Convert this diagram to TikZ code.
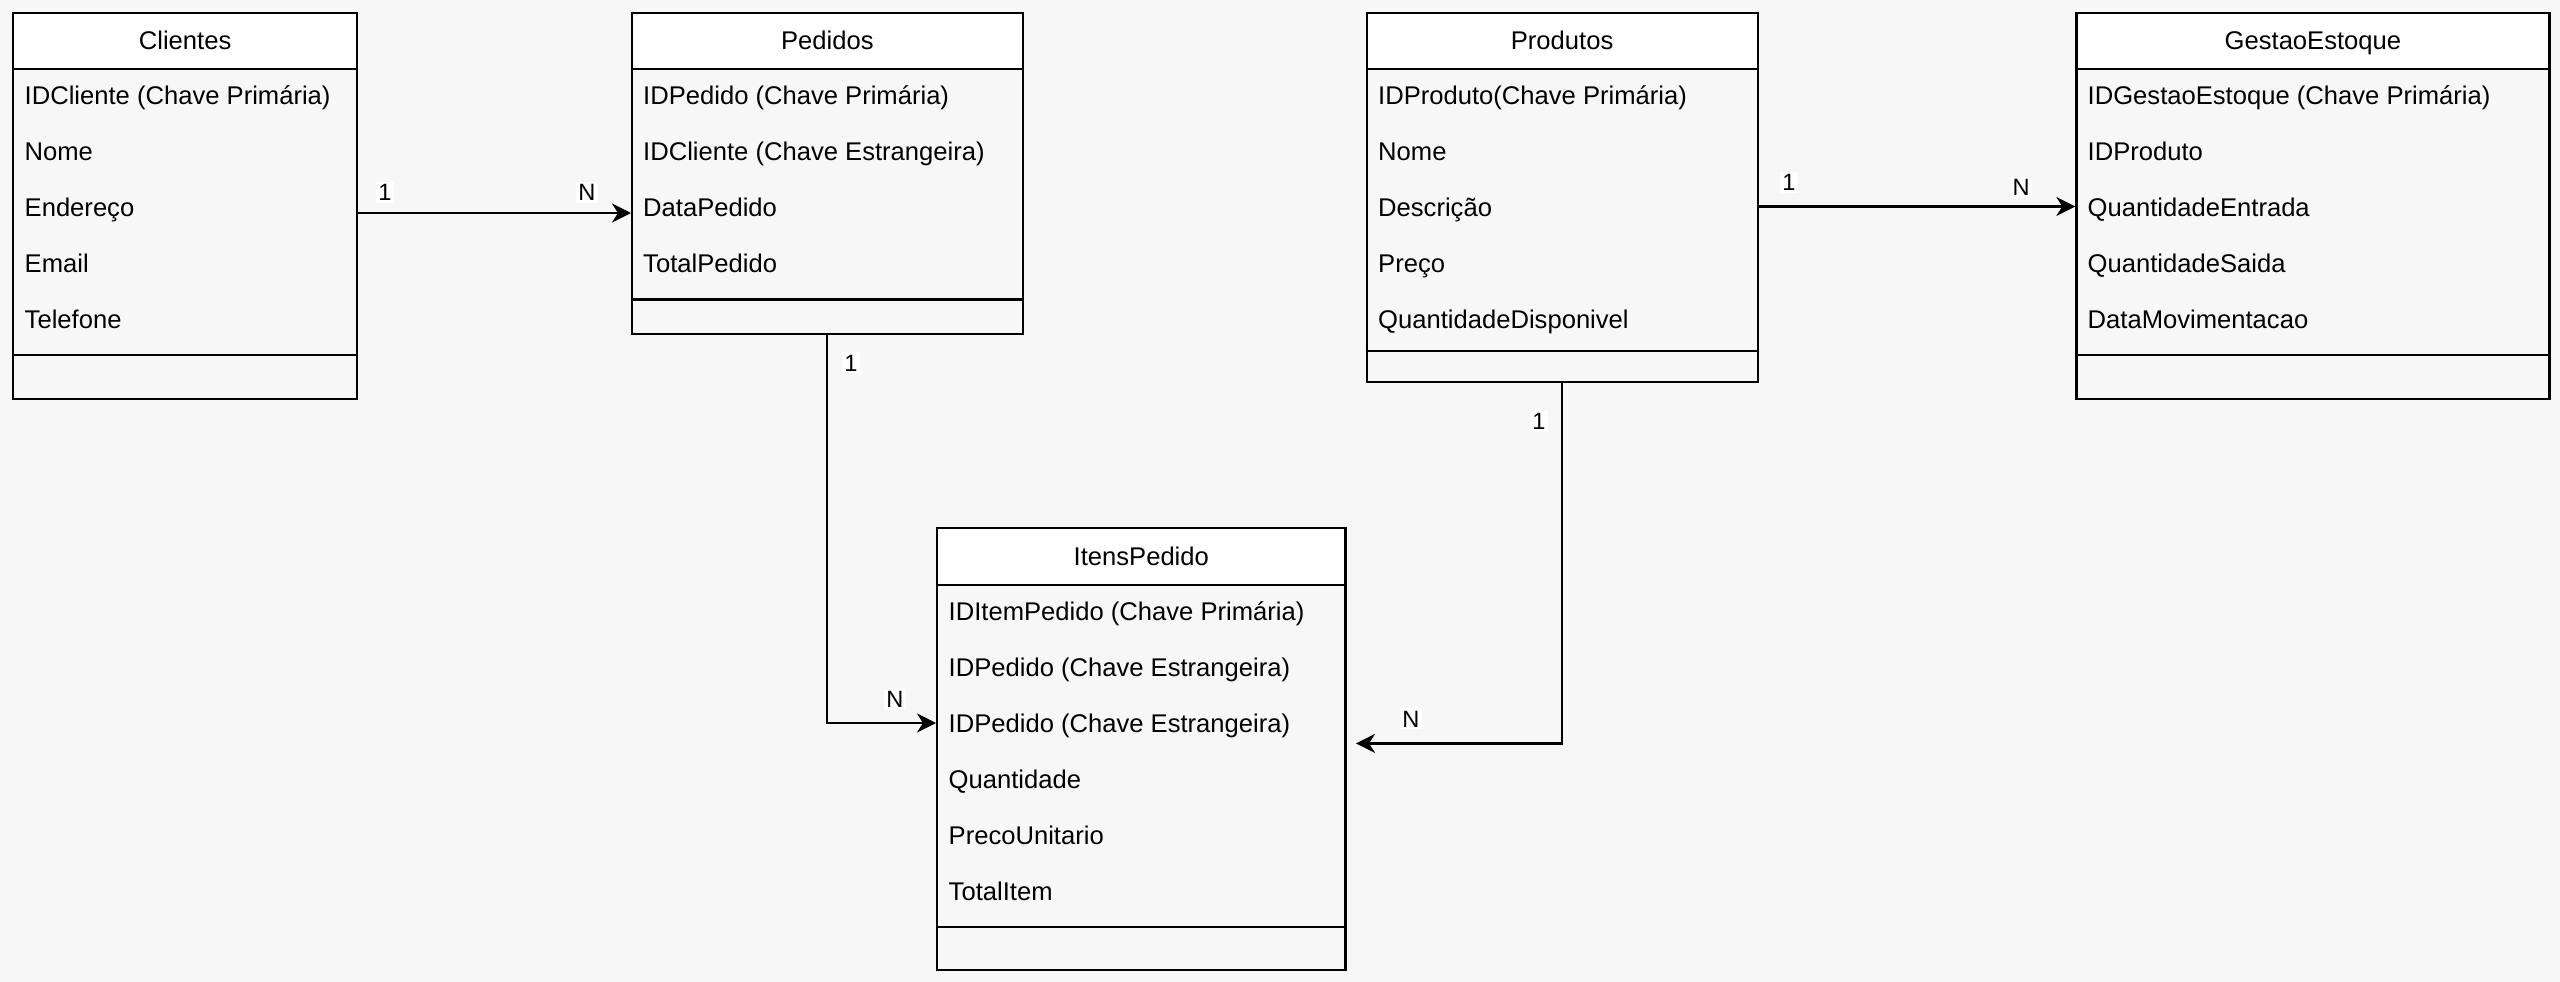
\documentclass[tikz,border=0pt]{standalone}
\usepackage{fontspec}
\setmainfont{Liberation Sans}
\usetikzlibrary{arrows.meta}
\definecolor{bgc}{HTML}{F7F7F7}
\tikzset{
  classbox/.style={draw=black, line width=2.2pt, inner sep=0pt, anchor=north west},
  headbox/.style={draw=black, fill=white, line width=2.2pt, inner sep=0pt, anchor=north west,
                  text height=18.4pt, text depth=0pt},
  rowtext/.style={anchor=west, inner sep=0pt, text height=18.4pt, text depth=0pt},
  sepline/.style={draw=black, line width=2.2pt},
  conn/.style={draw=black, line width=2.2pt, -{Stealth[length=19pt,width=19pt,inset=6pt]}},
  mult/.style={fill=white, inner sep=2pt, text height=17pt, text depth=0pt,
               font=\fontsize{23.6}{28}\selectfont},
}
\begin{document}
\begin{tikzpicture}[x=1pt,y=-1pt,font=\fontsize{25.6}{30}\selectfont]
\fill[bgc] (0,0) rectangle (2560,982);
\useasboundingbox (0,0) rectangle (2560,982);

% ---------- Clientes ----------
\node[classbox, minimum width=344pt, minimum height=386.3pt] (clientes) at (12,11.7) {};
\node[headbox, minimum width=344pt, minimum height=55.9pt] (clientesH) at (12,11.7) {Clientes};
\foreach \t [count=\i] in {IDCliente (Chave Primária),Nome,Endereço,Email,Telefone}
  \node[rowtext] (clientesR\i) at (24.5,{67.6+(\i-0.5)*55.9}) {\t};
\draw[sepline] (12,355) -- (356,355);

% ---------- Pedidos ----------
\node[classbox, minimum width=390.5pt, minimum height=321.3pt] (pedidos) at (631,11.7) {};
\node[headbox, minimum width=390.5pt, minimum height=55.9pt] (pedidosH) at (631,11.7) {Pedidos};
\foreach \t [count=\i] in {IDPedido (Chave Primária),IDCliente (Chave Estrangeira),DataPedido,TotalPedido}
  \node[rowtext] (pedidosR\i) at (643,{67.6+(\i-0.5)*55.9}) {\t};
\draw[sepline] (631,299.5) -- (1021.5,299.5);

% ---------- Produtos ----------
\node[classbox, minimum width=391pt, minimum height=369.3pt] (produtos) at (1365.5,11.7) {};
\node[headbox, minimum width=391pt, minimum height=55.9pt] (produtosH) at (1365.5,11.7) {Produtos};
\foreach \t [count=\i] in {IDProduto(Chave Primária),Nome,Descrição,Preço,QuantidadeDisponivel}
  \node[rowtext] (produtosR\i) at (1378,{67.6+(\i-0.5)*55.9}) {\t};
\draw[sepline] (1365.5,351) -- (1756.5,351);

% ---------- GestaoEstoque ----------
\node[classbox, minimum width=473pt, minimum height=386.3pt] (gestao) at (2075.3,11.7) {};
\node[headbox, minimum width=473pt, minimum height=55.9pt] (gestaoH) at (2075.3,11.7) {GestaoEstoque};
\foreach \t [count=\i] in {IDGestaoEstoque (Chave Primária),IDProduto,QuantidadeEntrada,QuantidadeSaida,DataMovimentacao}
  \node[rowtext] (gestaoR\i) at (2087.5,{67.6+(\i-0.5)*55.9}) {\t};
\draw[sepline] (2075.3,355) -- (2548.3,355);

% ---------- ItensPedido ----------
\node[classbox, minimum width=408.4pt, minimum height=442.2pt] (itens) at (936,526.8) {};
\node[headbox, minimum width=408.4pt, minimum height=57pt] (itensH) at (936,526.8) {ItensPedido};
\foreach \t [count=\i] in {IDItemPedido (Chave Primária),IDPedido (Chave Estrangeira),IDPedido (Chave Estrangeira),Quantidade,PrecoUnitario,TotalItem}
  \node[rowtext] (itensR\i) at (948.5,{583.8+(\i-0.5)*55.9}) {\t};
\draw[sepline] (936,927) -- (1344.4,927);

% ---------- connectors ----------
\coordinate (yA) at (0,213);
\coordinate (yB) at (0,206.5);
\coordinate (yC) at (0,723);
\coordinate (endD) at (1356,743.4);

\draw[conn] (clientes.east |- yA) -- (pedidos.west |- yA);
\draw[conn] (produtos.east |- yB) -- (gestao.west |- yB);
\draw[conn] (pedidos.south) |- (itens.west |- yC);
\draw[conn] (produtos.south) |- (endD);

% ---------- multiplicities ----------
\node[mult] (mA1) at (385,192) {1};
\node[mult] (mAN) at (587,192) {N};
\node[mult] (mB1) at (1789,182) {1};
\node[mult] (mBN) at (2021,187) {N};
\node[mult] (mC1) at (851,362.5) {1};
\node[mult] (mCN) at (895,699) {N};
\node[mult] (mD1) at (1539,421) {1};
\node[mult] (mDN) at (1411,718.5) {N};
\end{tikzpicture}
\end{document}
